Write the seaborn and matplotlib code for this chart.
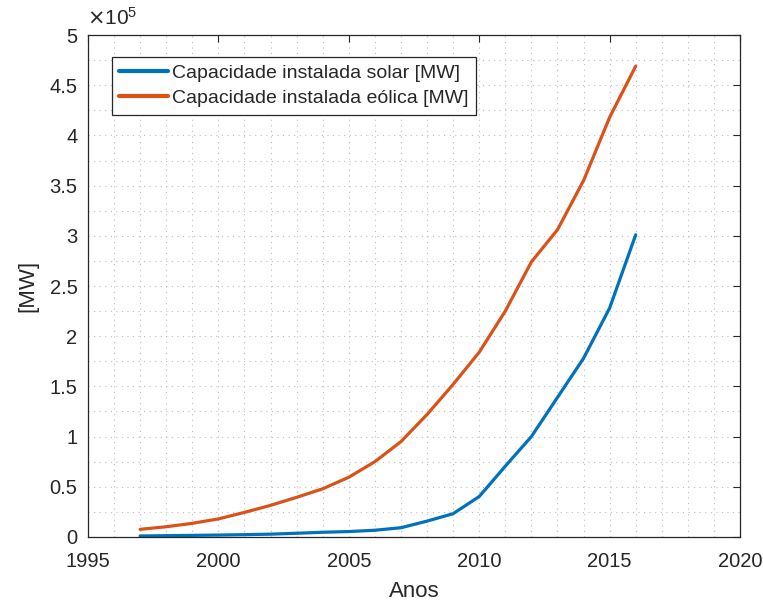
import numpy as np
import pandas as pd
import matplotlib
matplotlib.use("Agg")
import matplotlib.pyplot as plt
import seaborn as sns
from matplotlib.ticker import FuncFormatter, MultipleLocator

years = list(range(1997, 2017))
solar = [1.0e3, 1.3e3, 1.6e3, 1.9e3, 2.3e3, 2.8e3, 3.7e3, 4.7e3, 5.4e3, 6.7e3,
         9.2e3, 15.8e3, 23.2e3, 40.3e3, 70.5e3, 100.0e3, 139.0e3, 178.0e3, 228.0e3, 301.0e3]
wind = [7.6e3, 10.2e3, 13.6e3, 18.0e3, 24.5e3, 31.5e3, 39.5e3, 48.0e3, 59.5e3, 75.0e3,
        95.0e3, 122.0e3, 152.0e3, 184.0e3, 225.0e3, 274.0e3, 306.0e3, 355.0e3, 418.0e3, 469.0e3]
labels = ["Capacidade instalada solar [MW]", "Capacidade instalada eólica [MW]"]
colors = ["#0072BD", "#D95319"]

df = pd.DataFrame({
    "Ano": years * 2,
    "Valor": solar + wind,
    "Serie": [labels[0]] * len(years) + [labels[1]] * len(years),
})

sns.set_theme(style="white")
plt.rcParams["font.family"] = ["Liberation Sans", "DejaVu Sans"]

fig = plt.figure(figsize=(7.63, 6.06), dpi=100)
ax = fig.add_axes([0.1153, 0.1139, 0.8546, 0.8283])

sns.lineplot(data=df, x="Ano", y="Valor", hue="Serie", palette=colors,
             linewidth=2.3, ax=ax, legend=False)

ax.set_xlim(1995, 2020)
ax.set_ylim(0, 5e5)
ax.xaxis.set_major_locator(MultipleLocator(5))
ax.xaxis.set_minor_locator(MultipleLocator(1))
ax.yaxis.set_major_locator(MultipleLocator(0.5e5))
ax.yaxis.set_minor_locator(MultipleLocator(0.25e5))
ax.yaxis.set_major_formatter(FuncFormatter(lambda v, p: "%g" % (v / 1e5)))
ax.xaxis.set_major_formatter(FuncFormatter(lambda v, p: "%d" % v))

ax.grid(True, which="both", color="#bdbdbd", linestyle=(0, (1, 4)), linewidth=0.8)
ax.tick_params(axis="x", which="major", pad=11)
ax.tick_params(axis="y", which="major", pad=7.5)
ax.tick_params(which="major", direction="in", top=True, right=True, length=5,
               width=0.8, color="#262626", labelsize=14.5, labelcolor="#262626")
ax.tick_params(which="minor", length=0)
for s in ax.spines.values():
    s.set_color("#262626")
    s.set_linewidth(0.9)

ax.set_xlabel("Anos", fontsize=16, color="#262626", labelpad=7)
ax.set_ylabel("[MW]", fontsize=16, color="#262626", labelpad=8)
ax.text(-0.002, 1.012, r"$\times\mathregular{10^{5}}$", transform=ax.transAxes,
        fontsize=15, color="#262626", ha="left", va="bottom")

handles = [plt.Line2D([], [], color=c, linewidth=3) for c in colors]
leg = ax.legend(handles, labels, loc="upper left", bbox_to_anchor=(0.037, 0.956),
                borderaxespad=0, fontsize=14, frameon=True, fancybox=False,
                edgecolor="#262626", framealpha=1, handlelength=2.5,
                handletextpad=0.2, borderpad=0.38, labelspacing=0.38)
leg.get_frame().set_linewidth(0.9)
for t in leg.get_texts():
    t.set_color("#262626")

fig.savefig("out.png", dpi=100, facecolor="white")
